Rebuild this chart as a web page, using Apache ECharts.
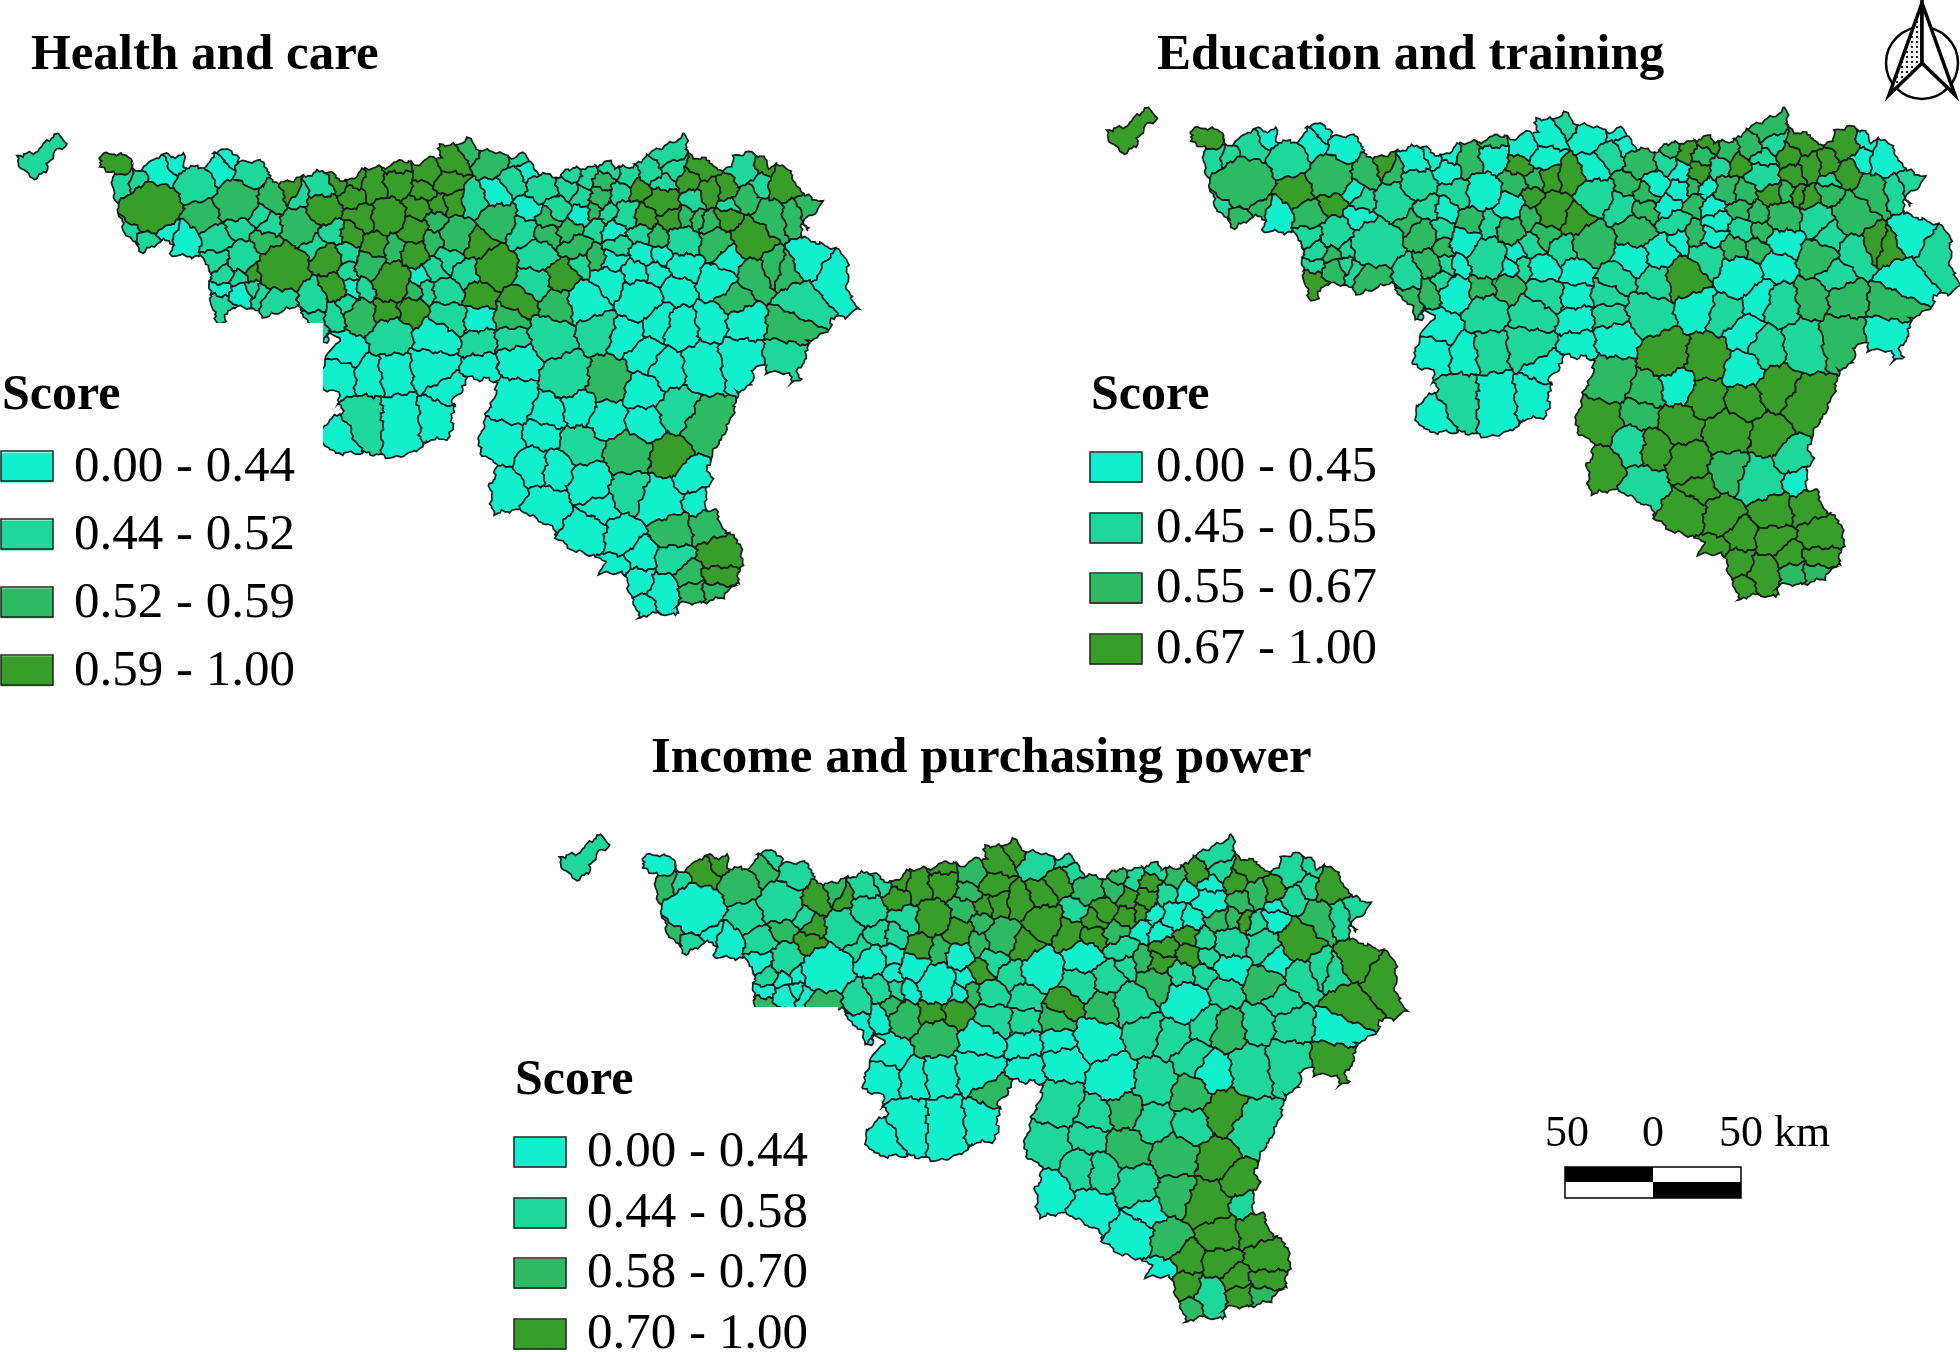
<!DOCTYPE html>
<html>
<head>
<meta charset="utf-8">
<style>html,body{margin:0;padding:0;background:#fff}#chart{width:1960px;height:1352px}</style>
<script src="https://cdn.jsdelivr.net/npm/echarts@6/dist/echarts.min.js"></script>
</head>
<body>
<div id="chart"></div>
<script>
// ---- Map geography: outline of the region and the approximate centre and radius of each municipality ----
const regionOutline = [[98,156],[110,153],[130,157],[134,170],[142,170],[162,153],[170,157],[183,155],[185,167],[207,167],[215,153],[223,149],[237,155],[238,162],[265,161],[267,173],[275,182],[290,182],[307,175],[323,170],[347,182],[367,168],[390,167],[400,160],[420,165],[430,157],[440,158],[440,145],[457,145],[467,139],[480,150],[500,153],[510,158],[522,153],[533,163],[538,173],[560,178],[565,169],[587,168],[597,167],[607,160],[617,167],[630,167],[643,163],[645,155],[657,150],[673,142],[685,134],[687,148],[690,157],[710,160],[715,170],[733,168],[732,157],[748,152],[762,157],[770,167],[785,165],[800,192],[822,202],[813,215],[800,225],[803,238],[823,245],[840,250],[848,263],[847,288],[857,308],[847,317],[832,317],[828,332],[807,342],[807,358],[798,367],[800,378],[793,384],[788,373],[768,372],[765,365],[753,370],[752,385],[737,392],[735,407],[732,417],[723,435],[707,465],[712,480],[705,493],[707,510],[715,510],[725,533],[738,538],[743,557],[737,583],[723,597],[700,603],[680,603],[675,615],[650,613],[640,620],[633,600],[623,573],[600,573],[605,560],[567,548],[558,540],[552,527],[520,510],[493,513],[490,487],[498,465],[477,452],[483,420],[493,400],[498,382],[483,378],[470,385],[453,400],[452,438],[430,440],[413,453],[395,458],[370,453],[335,453],[323,443],[320,429],[342,412],[338,393],[318,386],[325,358],[330,353],[340,337],[327,332],[329,342],[322,341],[318,331],[305,318],[297,305],[267,317],[247,307],[230,307],[225,322],[217,322],[210,298],[210,268],[200,257],[172,255],[172,243],[162,240],[145,253],[132,243],[123,228],[113,190],[113,172],[102,168]];
const exclaveOutline = [[16,156],[33,153],[43,148],[45,140],[60,134],[66,146],[54,153],[49,161],[47,170],[34,179],[22,170]];
// points inside the empty notch of the southern border: they keep municipalities from spanning it
const notchPoints = [[475,393],[463,425],[466,455],[470,478],[440,470]];

const communeX = [117,123,140,160,175,197,218,228,252,152,203,238,272,290,298,322,337,323,258,240,270,267,300,332,355,357,373,398,398,428,423,387,418,440,453,447,452,468,475,437,457,413,362,352,377,393,415,432,448,478,187,165,130,148,215,215,243,283,327,312,346,347,370,392,332,352,365,313,280,347,360,387,413,412,418,427,437,465,448,448,478,477,223,222,240,238,253,220,262,337,313,254,
340,347,370,390,393,433,437,447,400,365,340,435,480,483,517,513,567,513,548,580,608,608,643,643,677,707,628,670,582,557,533,502,542,507,545,590,630,600,587,622,660,690,698,672,708,720,673,640,617,638,665,643,687,720,690,718,
492,497,513,530,520,542,530,498,522,557,582,568,582,573,587,603,600,620,610,630,650,640,673,667,702,663,662,645,670,690,710,695,727,727,728,710,687,698,683,717,752,745,762,783,760,772,745,810,790,810,833,802,772,788,790,785,717,728,757,733,743,740,712,680,703,660,647,667,627,640,677,635,613,642,662,657,683,607,587,597,550,558,533,538,563,580,597,577,547,570,548,595,613,627,608,593,642,657,617,520,512,495,
40];
const communeY = [163,180,183,172,163,183,168,158,173,208,217,202,197,192,197,188,182,210,215,225,227,242,228,230,197,185,188,183,167,172,190,217,208,205,203,183,158,148,202,222,235,232,218,232,245,248,253,242,260,243,240,232,235,240,240,260,258,268,260,245,254,272,267,282,287,288,287,297,302,307,317,315,310,292,277,292,268,275,293,318,295,320,275,290,293,278,288,308,293,315,322,274,
373,350,373,335,370,365,337,388,423,423,437,420,342,365,360,340,377,400,413,408,382,420,393,423,410,427,453,458,447,470,467,443,433,488,507,482,490,508,533,538,500,477,502,532,525,555,558,555,568,582,592,605,575,575,593,592,
160,195,182,170,155,188,208,220,232,208,215,188,197,175,178,182,197,192,168,178,172,188,168,155,168,183,202,218,218,180,193,200,190,218,207,223,218,220,243,243,238,170,167,185,183,218,198,208,215,262,278,302,268,272,328,357,282,257,275,300,325,358,323,328,365,322,355,368,335,300,288,272,260,253,255,273,265,282,302,328,335,308,283,255,275,262,258,247,235,232,218,228,232,215,213,212,233,238,247,302,318,268,
155];
const communeRadius = [12,7,8,12,8,16,11,7,13,24,13,19,11,7,6,10,7,15,9,10,9,11,17,10,11,7,11,11,6,10,8,16,9,7,8,9,12,9,10,8,15,12,13,10,11,10,12,9,10,11,12,9,8,10,13,11,13,23,13,10,7,7,12,17,12,6,7,13,16,9,14,11,12,9,6,6,9,11,13,16,11,11,9,7,9,7,6,12,6,8,8,6,
12,14,11,17,13,17,18,10,18,17,13,14,11,9,15,12,16,17,11,12,15,15,13,14,14,18,18,14,15,13,13,15,9,13,15,16,15,9,15,13,18,12,7,14,12,14,12,11,8,10,12,7,8,11,8,9,
11,10,9,6,7,12,7,15,10,9,8,7,7,6,6,7,8,6,6,7,9,7,8,10,9,7,12,9,8,7,9,7,8,9,6,7,5,5,13,12,16,11,6,12,7,13,8,8,9,15,16,16,10,10,15,16,12,9,11,10,14,18,13,15,17,13,12,14,11,17,9,9,10,8,7,6,12,13,17,12,17,13,12,13,11,7,8,10,8,8,7,6,8,9,6,6,8,7,9,12,10,16,
10];

// ---- Scores, one per municipality (same order as above) ----
const healthScore = [.66,.48,.48,.38,.38,.48,.38,.38,.48,.66,.55,.55,.55,.66,.48,.48,.66,.66,.48,.48,.48,.55,.55,.48,.66,.66,.66,.66,.66,.66,.66,.66,.66,.66,.66,.66,.66,.55,.48,.55,.55,.66,.66,.66,.66,.55,.66,.55,.48,.66,.38,.38,.48,.48,.48,.48,.48,.66,.66,.48,.48,.48,.55,.66,.66,.38,.48,.48,.48,.48,.55,.66,.66,.55,.38,.48,.48,.48,.48,.48,.66,.38,.48,.38,.38,.48,.48,.48,.48,.48,.48,.66,
.38,.38,.38,.48,.38,.38,.38,.38,.38,.48,.38,.38,.48,.38,.38,.48,.48,.38,.38,.38,.55,.38,.38,.38,.48,.55,.55,.66,.48,.38,.38,.38,.38,.38,.38,.38,.48,.38,.38,.38,.38,.38,.38,.55,.55,.66,.48,.38,.38,.38,.38,.38,.55,.66,.55,.55,
.55,.38,.48,.38,.48,.48,.38,.55,.48,.48,.38,.48,.48,.48,.48,.55,.55,.48,.48,.48,.48,.66,.48,.48,.66,.48,.66,.66,.66,.66,.66,.48,.66,.66,.48,.55,.55,.55,.48,.55,.66,.48,.66,.66,.48,.55,.55,.55,.55,.38,.38,.48,.55,.55,.55,.48,.38,.38,.55,.55,.38,.38,.38,.38,.38,.38,.38,.38,.38,.38,.38,.38,.38,.38,.38,.38,.38,.38,.38,.48,.48,.55,.48,.48,.66,.48,.55,.55,.55,.55,.55,.48,.38,.48,.48,.55,.48,.55,.48,.66,.55,.66,
.48];
const educationScore = [.75,.50,.50,.50,.38,.50,.38,.38,.38,.61,.75,.61,.61,.75,.61,.38,.38,.50,.38,.75,.50,.38,.50,.50,.38,.38,.61,.38,.61,.38,.75,.38,.61,.61,.75,.38,.38,.50,.75,.75,.75,.38,.50,.38,.61,.50,.61,.61,.61,.75,.38,.61,.50,.61,.61,.50,.50,.50,.61,.61,.50,.61,.38,.50,.61,.50,.38,.50,.61,.50,.38,.61,.61,.38,.38,.50,.50,.50,.38,.50,.38,.38,.50,.50,.61,.61,.50,.75,.50,.61,.61,.50,
.38,.38,.38,.50,.50,.50,.50,.38,.38,.50,.38,.38,.38,.38,.38,.50,.75,.61,.61,.38,.75,.75,.38,.75,.75,.75,.75,.75,.75,.75,.50,.75,.61,.75,.50,.75,.61,.75,.75,.75,.50,.50,.38,.75,.75,.75,.75,.75,.75,.75,.75,.75,.75,.75,.61,.61,
.38,.38,.50,.38,.38,.61,.61,.50,.50,.38,.38,.50,.38,.61,.75,.61,.75,.50,.75,.61,.61,.75,.50,.61,.75,.50,.50,.61,.75,.75,.75,.75,.75,.61,.50,.75,.61,.75,.61,.50,.61,.75,.38,.38,.38,.61,.75,.50,.50,.38,.50,.38,.75,.75,.61,.38,.61,.50,.50,.50,.61,.61,.61,.50,.50,.38,.38,.50,.50,.38,.38,.61,.38,.50,.61,.61,.38,.50,.75,.38,.50,.50,.38,.61,.38,.38,.61,.50,.61,.38,.61,.61,.38,.61,.38,.61,.61,.61,.38,.50,.50,.61,
.75];
const incomeScore = [.36,.64,.51,.78,.78,.64,.64,.51,.51,.36,.51,.51,.78,.64,.78,.51,.51,.51,.51,.64,.78,.78,.51,.51,.78,.78,.78,.78,.78,.64,.64,.78,.64,.78,.78,.78,.78,.78,.78,.64,.64,.78,.51,.51,.78,.64,.36,.64,.51,.78,.36,.36,.64,.51,.51,.36,.51,.36,.36,.51,.36,.36,.36,.36,.51,.51,.36,.51,.64,.64,.64,.78,.78,.36,.36,.64,.78,.51,.51,.51,.51,.51,.51,.36,.36,.36,.36,.64,.36,.36,.36,.36,
.36,.36,.36,.64,.36,.36,.36,.64,.36,.36,.36,.36,.36,.36,.36,.36,.36,.51,.51,.64,.51,.51,.64,.51,.78,.51,.64,.78,.64,.51,.51,.51,.51,.36,.36,.51,.64,.36,.36,.64,.78,.78,.51,.78,.78,.78,.78,.78,.36,.78,.51,.64,.78,.78,.78,.64,
.51,.78,.78,.51,.51,.64,.51,.78,.78,.78,
.78,.64,.78,.64,.51,.78,.78,.51,.51,.64,
.78,.36,.51,.51,.78,.36,.36,.36,.64,.78,
.64,.64,.78,.36,.36,.51,.64,.78,.51,.51,
.78,.51,.51,.78,.51,.64,.51,.51,.51,.78,
.78,.78,.51,.51,.36,.78,.64,.36,.51,.51,
.51,.51,.51,.64,.51,.51,.51,.36,.51,.36,
.51,.51,.78,.78,.51,.51,.36,.64,.51,.51,
.36,.64,.51,.36,.51,.51,.64,.51,.78,.64,
.78,.36,.36,.36,.36,.78,.78,.51,.78,.78,
.64,.36,
.51];

// ---- Legend classes, titles, colours ----
const classColors = ['#10F0CD','#1DD89A','#2CBB63','#389E2A'];
const healthBreaks = [0,0.44,0.52,0.59,1];
const educationBreaks = [0,0.45,0.55,0.67,1];
const incomeBreaks = [0,0.44,0.58,0.70,1];
const panelTitles = ['Health and care','Education and training','Income and purchasing power'];
const legendTitle = 'Score';
const scaleLabels = ['50','0','50 km'];

// ---- Build municipality polygons (power diagram of the centres, clipped to the outline) ----
function clipHalf(poly,a,b,c){ // keep a*x+b*y<=c
  const out=[];
  for(let i=0;i<poly.length;i++){
    const p=poly[i],q=poly[(i+1)%poly.length];
    const dp=a*p[0]+b*p[1]-c,dq=a*q[0]+b*q[1]-c;
    if(dp<=0) out.push(p);
    if((dp<0&&dq>0)||(dp>0&&dq<0)){const t=dp/(dp-dq);out.push([p[0]+t*(q[0]-p[0]),p[1]+t*(q[1]-p[1])]);}
  }
  return out;
}
function roughen(p){
  const x=p[0],y=p[1];
  return [x+1.5*Math.sin(.37*y+.9*Math.sin(.17*x))+.9*Math.sin(1.13*y+.71*x),
          y+1.5*Math.sin(.41*x+.9*Math.sin(.19*y))+.9*Math.sin(1.07*x-.67*y)];
}
function detail(poly){
  const out=[];
  for(let i=0;i<poly.length;i++){
    const p=poly[i],q=poly[(i+1)%poly.length];
    const len=Math.hypot(q[0]-p[0],q[1]-p[1]);
    const n=Math.max(1,Math.ceil(len/3));
    for(let k=0;k<n;k++){
      const t=k/n;
      const r=roughen([p[0]+t*(q[0]-p[0]),p[1]+t*(q[1]-p[1])]);
      out.push([r[0],-r[1]]);
    }
  }
  out.push(out[0]);
  return out;
}
const communeNames = communeX.map((_,i)=>'C'+(i+1));
const lastMain = communeX.length-1;
const WEIGHT = 1.1;
const features = communeX.map((x,i)=>{
  let poly;
  if(i===lastMain){ poly=exclaveOutline; }
  else{
    poly=regionOutline;
    const y=communeY[i],wa=communeRadius[i]*communeRadius[i];
    for(let j=0;j<lastMain&&poly.length;j++){
      if(j===i) continue;
      const bx=communeX[j],by=communeY[j],wb=communeRadius[j]*communeRadius[j];
      poly=clipHalf(poly,2*(bx-x),2*(by-y),bx*bx+by*by-x*x-y*y-WEIGHT*wb+WEIGHT*wa);
    }
    notchPoints.forEach(n=>{
      if(poly.length) poly=clipHalf(poly,2*(n[0]-x),2*(n[1]-y),n[0]*n[0]+n[1]*n[1]-x*x-y*y+WEIGHT*wa);
    });
  }
  return {type:'Feature',properties:{name:communeNames[i]},
    geometry:{type:'Polygon',coordinates:poly.length>2?[detail(poly)]:[[[x,-communeY[i]],[x+.01,-communeY[i]],[x,-communeY[i]-.01],[x,-communeY[i]]]]}};
});
const geoJson={type:'FeatureCollection',features};
['health','education','income'].forEach(n=>echarts.registerMap('wallonia-'+n,JSON.parse(JSON.stringify(geoJson))));

let minX=1e9,maxX=-1e9,minY=1e9,maxY=-1e9;
features.forEach(f=>f.geometry.coordinates[0].forEach(c=>{minX=Math.min(minX,c[0]);maxX=Math.max(maxX,c[0]);minY=Math.min(minY,-c[1]);maxY=Math.max(maxY,-c[1]);}));

const serif='"Liberation Serif","Times New Roman",serif';
function panelBox(ax,ay,sx,sy){
  const left=ax+sx*(minX-98),top=ay+sy*(minY-134);
  return {left,top,width:sx*(maxX-minX),height:sy*(maxY-minY)};
}
function mapSeries(name,values,box){
  return Object.assign({type:'map',name,map:'wallonia-'+name,aspectScale:1,roam:false,silent:true,
    showLegendSymbol:false,label:{show:false},emphasis:{disabled:true},select:{disabled:true},
    itemStyle:{borderColor:'#1a1a1a',borderWidth:1.7,areaColor:'#fff'},
    data:communeNames.map((n,i)=>({name:n,value:values[i]}))},box);
}
function pieces(br){
  const f=v=>v.toFixed(2);
  return classColors.map((c,i)=>({min:br[i],max:br[i+1],label:f(br[i])+' - '+f(br[i+1]),color:c}));
}
function vm(idx,br,left,top,gap,tg){
  return {type:'piecewise',seriesIndex:idx,pieces:pieces(br),orient:'vertical',inverse:true,left,top,padding:0,
    itemWidth:52,itemHeight:30,itemGap:gap,textGap:tg,align:'left',selectedMode:false,hoverLink:false,itemSymbol:'rect',
    textStyle:{fontFamily:serif,fontSize:51,color:'#000'}};
}
function ttl(text,left,top,size){return {text,left,top,padding:0,textStyle:{fontFamily:serif,fontSize:size||50,fontWeight:'bold',color:'#000'}};}

const pat=document.createElement('canvas');pat.width=5;pat.height=5;
const pc=pat.getContext('2d');pc.fillStyle='#fff';pc.fillRect(0,0,5,5);pc.fillStyle='#222';pc.fillRect(1,1,2,2);

function swatches(x,tops){return tops.map(y=>({type:'rect',z:10,shape:{x,y,width:52,height:30},style:{fill:'none',stroke:'#222',lineWidth:1.5}}));}

const graphic=[
  {type:'rect',z:3,shape:{x:0,y:323,width:323,height:125},style:{fill:'#fff'}},
  {type:'rect',z:3,shape:{x:560,y:1007,width:278,height:32},style:{fill:'#fff'}},
  {type:'rect',z:5,shape:{x:1565,y:1167,width:176,height:31},style:{fill:'#fff',stroke:'#000',lineWidth:1.5}},
  {type:'rect',z:5,shape:{x:1565,y:1167,width:88,height:15},style:{fill:'#000'}},
  {type:'rect',z:5,shape:{x:1653,y:1182,width:88,height:16},style:{fill:'#000'}},
  {type:'text',z:5,style:{x:1567,y:1134,text:scaleLabels[0],font:'44px '+serif,fill:'#000',align:'center',verticalAlign:'middle'}},
  {type:'text',z:5,style:{x:1653,y:1134,text:scaleLabels[1],font:'44px '+serif,fill:'#000',align:'center',verticalAlign:'middle'}},
  {type:'text',z:5,style:{x:1719,y:1134,text:scaleLabels[2],font:'44px '+serif,fill:'#000',align:'left',verticalAlign:'middle'}},
  {type:'circle',z:5,shape:{cx:1922,cy:63,r:36},style:{fill:'#fff',stroke:'#000',lineWidth:2.5}},
  {type:'polygon',z:5,shape:{points:[[1922,3],[1889,95],[1922,63]]},style:{fill:{image:pat,repeat:'repeat'},stroke:'#000',lineWidth:3.5,lineJoin:'miter'}},
  {type:'polygon',z:5,shape:{points:[[1922,3],[1955,95],[1922,63]]},style:{fill:'#fff',stroke:'#000',lineWidth:3.5,lineJoin:'miter'}}
].concat(swatches(1,[451,519,587,655]),swatches(1090,[452,513,573,634]),swatches(514,[1137,1198,1258,1319]));

const chart=echarts.init(document.getElementById('chart'),null,{renderer:'canvas'});
chart.setOption({
  animation:false,backgroundColor:'#fff',
  title:[ttl(panelTitles[0],31,30,51),ttl(panelTitles[1],1157,30,51),ttl(panelTitles[2],651,733,51),
         ttl(legendTitle,2,371),ttl(legendTitle,1091,371),ttl(legendTitle,515,1056)],
  visualMap:[vm(0,healthBreaks,1,442,16.9,21),vm(1,educationBreaks,1090,442,9.7,14),vm(2,incomeBreaks,514,1127,9.7,21)],
  series:[mapSeries('health',healthScore,panelBox(98,134,1,1)),
          mapSeries('education',educationScore,panelBox(1189,108,1.016,1.016)),
          mapSeries('income',incomeScore,panelBox(641,835,1.007,1.006))],
  graphic
});
</script>
</body>
</html>
